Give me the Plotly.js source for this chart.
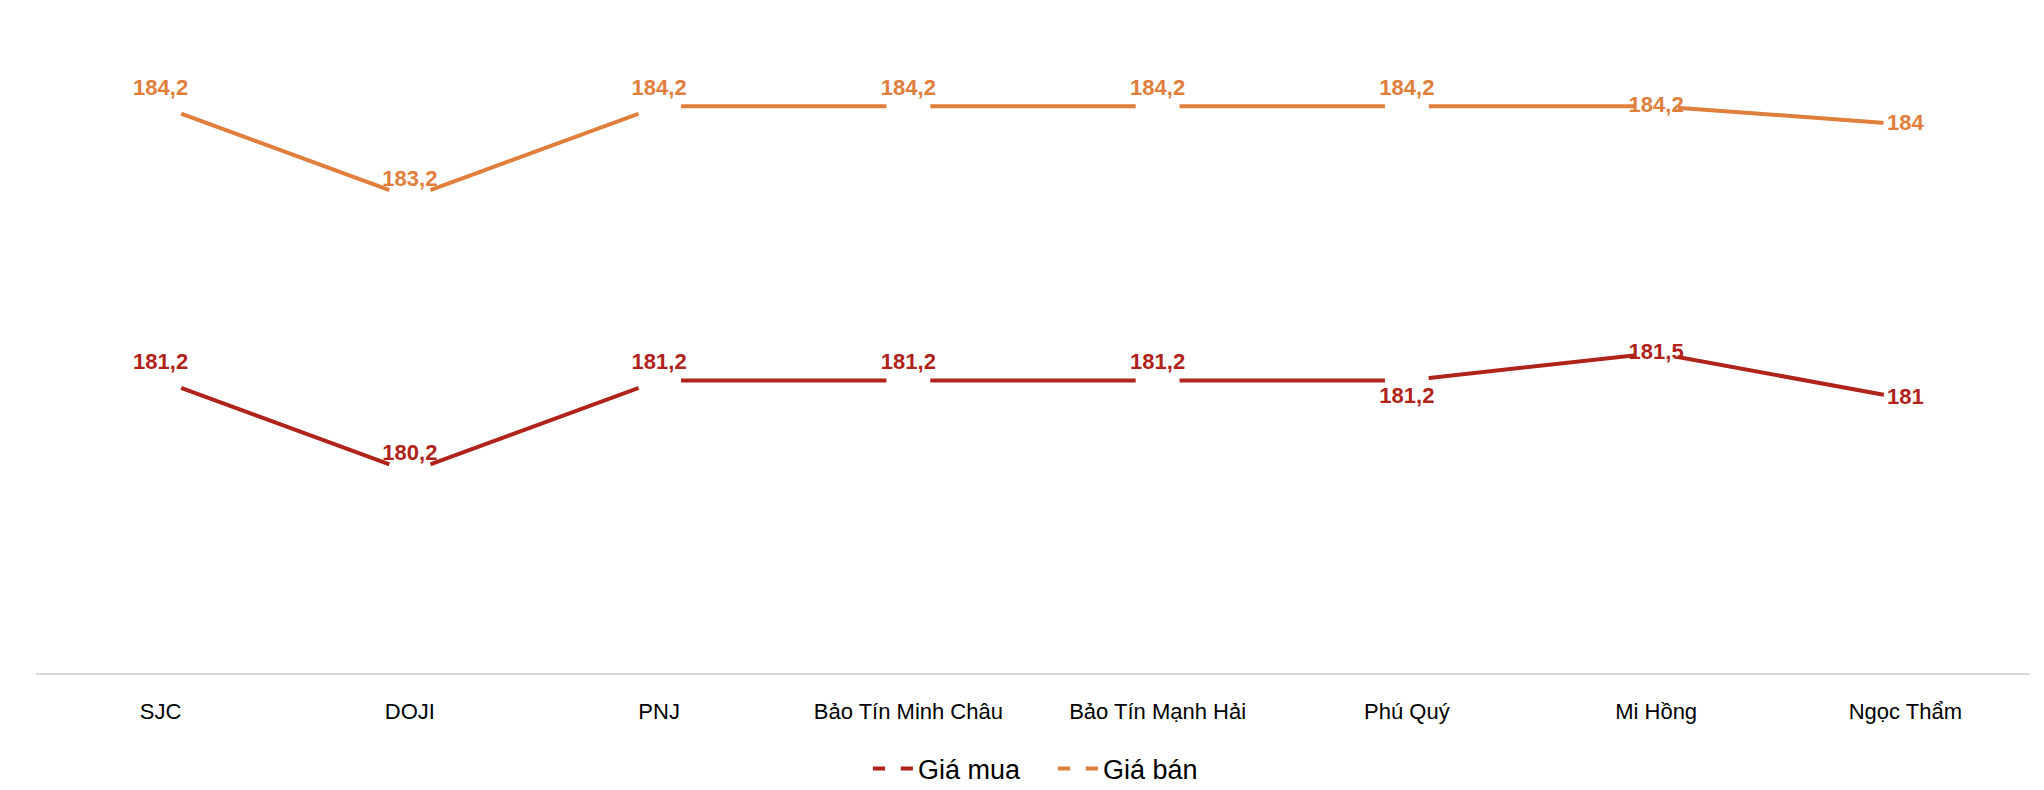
<!DOCTYPE html>
<html>
<head>
<meta charset="utf-8">
<script src="https://cdn.plot.ly/plotly-3.0.1.min.js"></script>
<style>
  html, body { margin: 0; padding: 0; background: #fff; }
  #chart { width: 2044px; height: 790px; }
</style>
</head>
<body>
<div id="chart"></div>
<script>
var categories = ['SJC', 'DOJI', 'PNJ', 'Bảo Tín Minh Châu', 'Bảo Tín Mạnh Hải', 'Phú Quý', 'Mi Hồng', 'Ngọc Thẩm'];
var giaMua = [181.2, 180.2, 181.2, 181.2, 181.2, 181.2, 181.5, 181];
var giaBan = [184.2, 183.2, 184.2, 184.2, 184.2, 184.2, 184.2, 184];

var muaPos = ['top center', 'top center', 'top center', 'top center', 'top center', 'bottom center', 'middle center', 'middle center'];
var banPos = ['top center', 'top center', 'top center', 'top center', 'top center', 'top center', 'middle center', 'middle center'];

var redColor = '#B0231B';
var orangeColor = '#E07E3C';
var font = 'Liberation Sans, Arial, sans-serif';

function labels(arr) {
    return arr.map(function(v) { return String(v).replace('.', ','); });
}

// lines with white markers so the line breaks around every point
var traceMua = {
    x: categories,
    y: giaMua,
    name: 'Giá mua',
    mode: 'lines+markers',
    type: 'scatter',
    line: { color: redColor, width: 4 },
    marker: { color: '#ffffff', size: 44, line: { width: 0 } },
    hoverinfo: 'skip'
};
var traceBan = {
    x: categories,
    y: giaBan,
    name: 'Giá bán',
    mode: 'lines+markers',
    type: 'scatter',
    line: { color: orangeColor, width: 4 },
    marker: { color: '#ffffff', size: 44, line: { width: 0 } },
    hoverinfo: 'skip'
};

// data labels
var textMua = {
    x: categories,
    y: giaMua,
    mode: 'text+markers',
    type: 'scatter',
    text: labels(giaMua),
    textposition: muaPos,
    textfont: { family: font, size: 22, color: redColor, weight: 'bold' },
    marker: { size: 8, opacity: 0 },
    showlegend: false,
    hoverinfo: 'skip'
};
var textBan = {
    x: categories,
    y: giaBan,
    mode: 'text+markers',
    type: 'scatter',
    text: labels(giaBan),
    textposition: banPos,
    textfont: { family: font, size: 22, color: orangeColor, weight: 'bold' },
    marker: { size: 8, opacity: 0 },
    showlegend: false,
    hoverinfo: 'skip'
};

var layout = {
    width: 2044,
    height: 790,
    margin: { l: 36, r: 14, t: 33, b: 117, autoexpand: false },
    paper_bgcolor: '#ffffff',
    plot_bgcolor: '#ffffff',
    font: { family: font, color: '#000000' },
    showlegend: true,
    legend: {
        orientation: 'h',
        x: 0.51,
        xanchor: 'center',
        y: -0.15,
        yanchor: 'middle',
        font: { family: font, size: 27, color: '#000000' },
        itemwidth: 40,
        entrywidth: 130,
        entrywidthmode: 'pixels'
    },
    xaxis: {
        type: 'category',
        range: [-0.5, 7.5],
        showgrid: false,
        zeroline: false,
        showline: true,
        linecolor: '#D9D9D9',
        linewidth: 2,
        ticks: 'outside',
        ticklen: 18,
        tickcolor: 'rgba(0,0,0,0)',
        tickfont: { family: font, size: 22, color: '#000000' }
    },
    yaxis: {
        range: [178, 185],
        visible: false,
        showgrid: false,
        zeroline: false
    }
};

Plotly.newPlot('chart', [traceMua, traceBan, textMua, textBan], layout, { staticPlot: true });
</script>
</body>
</html>
